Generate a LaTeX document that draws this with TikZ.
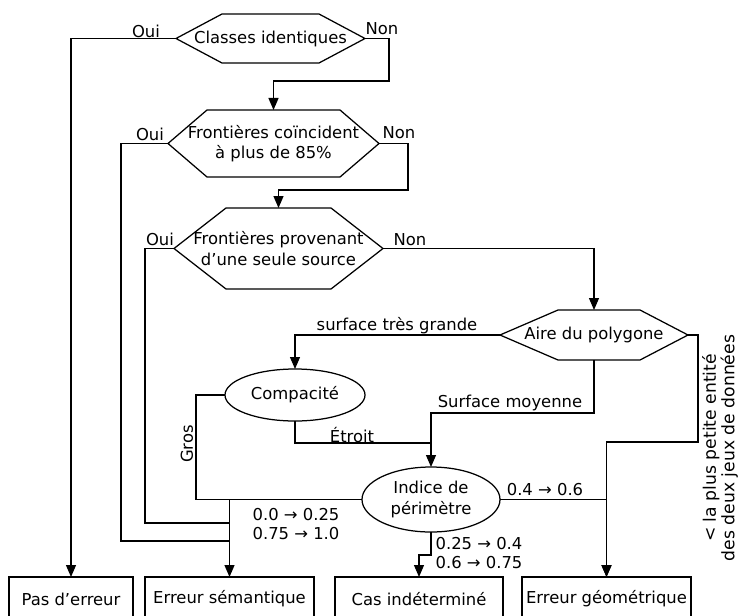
\documentclass[tikz,border=0pt]{standalone}
\usepackage{fontspec}
\setmainfont{DejaVu Sans}
\usetikzlibrary{arrows.meta,shapes.geometric,calc}
\newcommand\hexdraw[3]{\draw (#1.west) -- ([xshift=#2]#1.north west) -- ([xshift=-#3]#1.north east) -- (#1.east) -- ([xshift=-#3]#1.south east) -- ([xshift=#2]#1.south west) -- cycle;}
\begin{document}
\begin{tikzpicture}[x=1pt,y=-1pt,
  font=\fontsize{16.4}{20.5}\selectfont,
  line width=1.25pt,
  arr/.style={-{Triangle[width=10pt,length=12pt]}},
  hexbox/.style={draw=none,inner sep=0pt,outer sep=0pt,align=center},
  oval/.style={draw,ellipse,inner sep=0pt,outer sep=0pt,align=center},
  outbox/.style={draw,rectangle,inner sep=0pt,outer sep=0pt,minimum height=44pt},
  lbl/.style={inner sep=0pt,align=left,font=\fontsize{16.4}{18.5}\selectfont}]
\useasboundingbox (0,0) rectangle (738,615);
\clip (0,0) rectangle (738,615);
% decision hexagons
\node[hexbox,minimum width=189pt,minimum height=49pt] (h1) at (270.5,38.5) {Classes identiques};
\hexdraw{h1}{46pt}{46pt}
\node[hexbox,minimum width=211pt,minimum height=67pt] (h2) at (273.5,143.5) {Frontières coïncident\\à plus de 85\%};
\hexdraw{h2}{39pt}{39pt}
\node[hexbox,minimum width=209pt,minimum height=81pt] (h3) at (278.5,248.5) {Frontières provenant\\d’une seule source};
\hexdraw{h3}{52pt}{52pt}
\node[hexbox,minimum width=188pt,minimum height=50pt] (h4) at (594,335) {Aire du polygone};
\hexdraw{h4}{58pt}{48pt}
% ellipses
\node[oval,minimum width=140pt,minimum height=52pt] (c1) at (295,395) {Compacité};
\node[oval,minimum width=138pt,minimum height=65pt] (c2) at (431,499.5) {Indice de\\périmètre};
% outcome boxes
\node[outbox,minimum width=124pt] (b1) at (71,599) {Pas d’erreur};
\node[outbox,minimum width=169pt] (b2) at (229.5,599) {Erreur sémantique};
\node[outbox,minimum width=168pt] (b3) at (419,599) {Cas indéterminé};
\node[outbox,minimum width=169pt] (b4) at (606.5,599) {Erreur géométrique};
% connectors
\coordinate (n1) at (389,81);
\coordinate (n2) at (408,190);
\coordinate (o2) at (121,541);
\coordinate (o3) at (145,523);
\coordinate (g1) at (698,442);
\coordinate (gx) at (196,450);
\coordinate (e1) at (431,443);
\coordinate (m1) at (431,413);
\coordinate (k1) at (431,555);
\draw[arr] (h1.west) -| (b1.north);
\draw[arr] (h1.east) -| (n1) -| (h2.north);
\draw (h2.west) -| (o2) -- (o2 -| b2.north);
\draw[arr] (h2.east) -| (n2) -| (h3.north);
\draw (h3.west) -| (o3) -- (o3 -| b2.north);
\draw[arr] (h3.east) -| (h4.north);
\draw[arr] (h4.west) -| (c1.north);
\draw[arr] (h4.south) |- (m1) -- (c2.north);
\draw[arr] (h4.east) -| (g1) -| (b4.north);
\draw (c1.west) -| (gx) |- (c2.west);
\draw (c1.south) |- (e1);
\draw[arr] (c2.west) -| (b2.north);
\draw[arr] (c2.east) -| (b4.north);
\draw[arr] (c2.south) -- (k1) -| (b3.north);
% labels
\node[lbl] (l1) at (146,31) {Oui};
\node[lbl] (l2) at (382,29) {Non};
\node[lbl] (l3) at (150,134) {Oui};
\node[lbl] (l4) at (399,133) {Non};
\node[lbl] (l5) at (160,239) {Oui};
\node[lbl] (l6) at (410,240) {Non};
\node[lbl] (l7) at (397,326) {surface très grande};
\node[lbl] (l8) at (510,403) {Surface moyenne};
\node[lbl] (l9) at (352,435) {Étroit};
\node[lbl,rotate=90] (l10) at (187,444) {Gros};
\node[lbl,anchor=west] (l11) at (252,524) {0.0 → 0.25\\0.75 → 1.0};
\node[lbl] (l12) at (545,490) {0.4 → 0.6};
\node[lbl,anchor=west] (l13) at (435,553) {0.25 → 0.4\\0.6 → 0.75};
\node[lbl,rotate=90,align=center,font=\fontsize{17.2}{16.5}\selectfont] (l14) at (720,448) {< la plus petite entité\\des deux jeux de données};
\end{tikzpicture}
\end{document}
